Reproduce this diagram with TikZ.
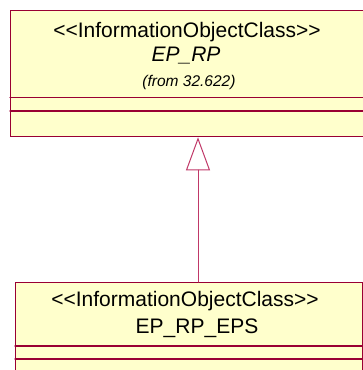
\documentclass[tikz,border=0pt]{standalone}
\usepackage{fontspec}
\setmainfont{Liberation Sans}
\usetikzlibrary{arrows.meta,calc}
\definecolor{umlfill}{HTML}{FFFFCC}
\definecolor{umlline}{HTML}{990033}
\definecolor{umlarrow}{HTML}{C03868}

\begin{document}
\begin{tikzpicture}[x=1pt, y=-1pt, line cap=round,
    classbox/.style={draw=umlline, fill=umlfill, line width=1.3pt, inner sep=0pt, anchor=north west},
    divider/.style={draw=umlline, line width=1.3pt},
    bigtext/.style={font=\fontsize{21}{25}\selectfont, anchor=base, inner sep=0pt},
    smalltext/.style={font=\fontsize{15.5}{18}\selectfont\itshape, anchor=base, inner sep=0pt},
    genline/.style={draw=umlarrow, line width=1pt, -{Triangle[open, length=33pt, width=24pt]}}]
  \useasboundingbox (0,0) rectangle (363,370);
  \clip (0,0) rectangle (363,370);

  % klassen
  \node[classbox, minimum width=358pt, minimum height=126pt] (eprp) at (10,10) {};
  \node[classbox, minimum width=347pt, minimum height=100pt] (eprpeps) at (15,282) {};

  % vakken
  \draw[divider] (10,97.5) -- (368,97.5);
  \draw[divider] (10,111) -- (368,111);
  \draw[divider] (15,346) -- (362,346);
  \draw[divider] (15,359) -- (362,359);

  % teksten
  \node[bigtext] (eprpster) at (187,37) {<{}<InformationObjectClass>{}>};
  \node[bigtext, font=\fontsize{21}{25}\selectfont\itshape] (eprpname) at (186,61) {EP\_RP};
  \node[smalltext] (eprpfrom) at (189,86.5) {(from 32.622)};
  \node[bigtext] (eprpepsster) at (185,306) {<{}<InformationObjectClass>{}>};
  \node[bigtext] (eprpepsname) at (197,333) {EP\_RP\_EPS};

  % generalisatie
  \coordinate (genx) at (198,0);
  \draw[genline] (eprpeps.north west -| genx) -- (eprp.south west -| genx);
\end{tikzpicture}
\end{document}
